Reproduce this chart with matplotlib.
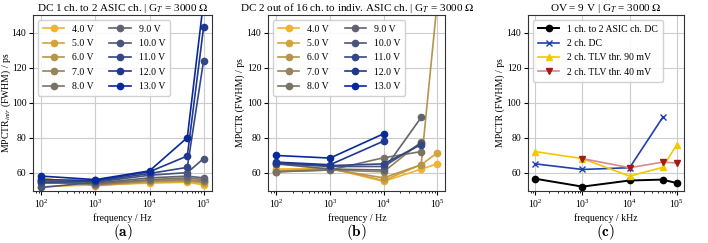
import numpy as np
import matplotlib
matplotlib.use("Agg")
import matplotlib.pyplot as plt
from matplotlib.colors import LinearSegmentedColormap

plt.rcParams['font.family'] = ['Liberation Serif', 'DejaVu Serif']
plt.rcParams['mathtext.fontset'] = 'stix'
plt.rcParams['font.size'] = 7

nan = np.nan
freq = [1e2, 1e3, 1e4, 5e4, 1e5]
voltages = ['4.0 V', '5.0 V', '6.0 V', '7.0 V', '8.0 V',
            '9.0 V', '10.0 V', '11.0 V', '12.0 V', '13.0 V']

# panel (a): DC 1 ch. to 2 ASIC ch.
mpctr_a = [
    [52.0, 53.0, 54.0, 54.5, 53.0],
    [57.0, 52.5, 54.5, 55.0, 54.0],
    [56.0, 53.0, 55.0, 55.5, 54.5],
    [55.5, 53.0, 55.5, 56.0, 55.0],
    [55.0, 53.5, 56.0, 57.0, 56.0],
    [54.0, 54.0, 57.0, 58.0, 57.0],
    [51.5, 54.5, 58.5, 60.0, 68.0],
    [54.5, 55.0, 59.5, 63.0, 124.0],
    [56.0, 55.5, 60.5, 69.5, 143.0],
    [58.0, 56.0, 61.0, 80.0, 158.0],
]

# panel (b): DC 2 out of 16 ch. to indiv. ASIC ch.
mpctr_b = [
    [62.0, 62.5, 55.0, 62.0, 65.0],
    [61.0, 62.5, 55.5, 64.5, 71.3],
    [60.5, 62.0, 57.0, 64.5, 158.0],
    [60.5, 61.5, 60.5, 77.5, nan],
    [60.5, 61.5, 68.5, 72.0, nan],
    [65.0, 62.0, 61.5, 91.5, nan],
    [65.0, 63.5, 63.5, 76.8, nan],
    [65.5, 64.0, 65.0, 76.0, nan],
    [66.0, 64.5, 78.0, nan, nan],
    [69.8, 68.3, 82.2, nan, nan],
]

# panel (c): OV = 9 V comparison
dc_1to2 = [56.5, 52.0, 55.5, 56.0, 54.0]
dc_2ch_freq = [1e2, 1e3, 1e4, 5e4]
dc_2ch = [65.0, 61.8, 62.8, 91.5]
tlv90 = [72.0, 68.0, 58.0, 63.0, 76.0]
tlv40_freq = [1e3, 1e4, 5e4, 1e5]
tlv40 = [68.0, 62.8, 66.0, 65.5]

cmap = LinearSegmentedColormap.from_list('ob', ['#f0b430', '#6b6b6b', '#08299a'])
colors = [cmap(i / (len(voltages) - 1)) for i in range(len(voltages))]

fig = plt.figure(figsize=(7.08, 2.43), dpi=100)
ax_a = fig.add_axes([0.047, 0.214, 0.252, 0.724])
ax_b = fig.add_axes([0.379, 0.214, 0.250, 0.724])
ax_c = fig.add_axes([0.746, 0.214, 0.220, 0.724])


def style(ax, xlabel, ylabel, title):
    ax.set_xscale('log')
    ax.set_ylim(49.5, 150)
    ax.set_yticks([60, 80, 100, 120, 140])
    ax.grid(True, which='major', color='#cccccc', linewidth=0.8)
    ax.set_axisbelow(True)
    ax.set_xlabel(xlabel, labelpad=2)
    ax.set_ylabel(ylabel, labelpad=1)
    ax.set_title(title, fontsize=8, pad=3)
    ax.tick_params(labelsize=7, length=3, pad=2)
    ax.tick_params(which='minor', length=1.5)
    for s in ax.spines.values():
        s.set_color('#333333')


leg_kw = dict(loc='upper left', fontsize=7, handlelength=2.2,
              labelspacing=0.55, borderpad=0.5, framealpha=0.9)

for vals, lab, c in zip(mpctr_a, voltages, colors):
    ax_a.plot(freq, vals, '-o', color=c, lw=1.2, ms=4.5, label=lab)
style(ax_a, 'frequency / Hz', r'MPCTR$_{intr}$ (FWHM) / ps',
      r'DC 1 ch. to 2 ASIC ch. | G$_{T}$ = 3000 $\Omega$')
ax_a.yaxis.set_label_coords(-0.115, 0.5)
ax_a.legend(ncol=2, columnspacing=1.6, **leg_kw)

for vals, lab, c in zip(mpctr_b, voltages, colors):
    ax_b.plot(freq, vals, '-o', color=c, lw=1.2, ms=4.5, label=lab)
style(ax_b, 'frequency / Hz', 'MPCTR (FWHM) / ps',
      r'DC 2 out of 16 ch. to indiv. ASIC ch. | G$_{T}$ = 3000 $\Omega$')
ax_b.legend(ncol=2, columnspacing=1.6, **leg_kw)

ax_c.plot(freq, dc_1to2, '-o', color='black', lw=1.4, ms=4.5, label='1 ch. to 2 ASIC ch. DC')
ax_c.plot(dc_2ch_freq, dc_2ch, '-x', color='#1f3fb0', lw=1.2, ms=5, label='2 ch. DC')
ax_c.plot(freq, tlv90, '-^', color='#f2c800', lw=1.2, ms=5, label='2 ch. TLV thr. 90 mV')
ax_c.plot(tlv40_freq, tlv40, '-v', color='#d88a8a', mfc='#a01a1a', mec='#a01a1a',
          lw=1.2, ms=5, label='2 ch. TLV thr. 40 mV')
style(ax_c, 'frequency / kHz', 'MPCTR (FWHM) / ps',
      r'OV = 9 V | G$_{T}$ = 3000 $\Omega$')
ax_c.legend(**leg_kw)

for ax, lab in zip([ax_a, ax_b, ax_c], ['(a)', '(b)', '(c)']):
    p = ax.get_position()
    fig.text((p.x0 + p.x1) / 2, 0.045, r'$\mathbf{' + lab + '}$', ha='center',
             va='center', fontsize=11, math_fontfamily='cm')

fig.savefig('out.png', dpi=100)
